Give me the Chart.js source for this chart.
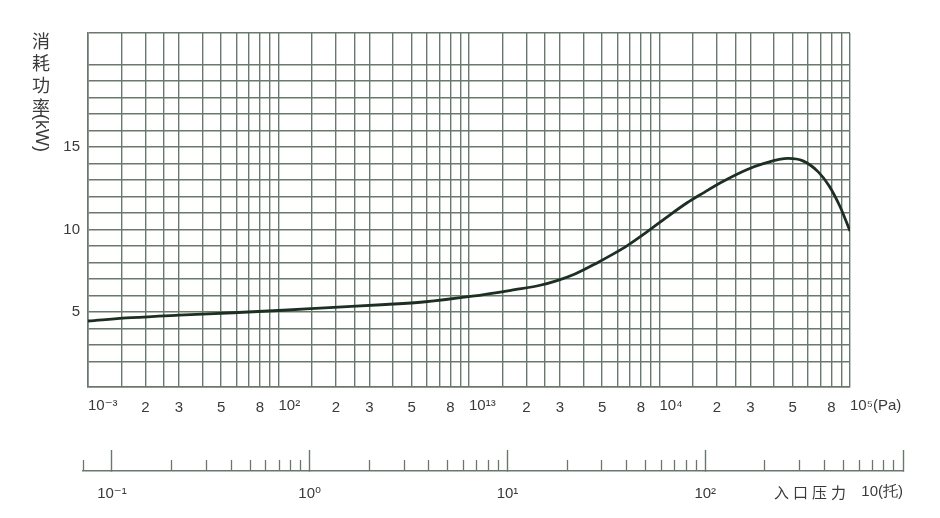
<!DOCTYPE html>
<html><head><meta charset="utf-8">
<script src="https://cdn.jsdelivr.net/npm/chart.js@4.4.1/dist/chart.umd.min.js"></script>
<style>
html,body{margin:0;padding:0;background:#ffffff;}
#wrap{position:relative;width:940px;height:518px;background:#fff;}
#c1{position:absolute;left:0;top:0;}
#c2{position:absolute;left:0;top:430px;}
</style></head><body>
<div id="wrap">
<canvas id="c1" width="940" height="430"></canvas>
<canvas id="c2" width="940" height="88"></canvas>
</div>
<script>
// ---- data ----
const pressurePa = [10, 17, 30, 58, 106, 175, 366, 574, 1040, 1740, 2330, 2900, 3600, 4750, 5700, 6840, 8600, 10800, 13900, 16900, 21500, 28500, 35400, 47300, 56600, 67900, 77600, 88500, 100000];
const powerKW    = [4.45, 4.65, 4.8, 4.95, 5.1, 5.25, 5.45, 5.6, 5.95, 6.35, 6.6, 6.9, 7.3, 8.0, 8.5, 9.05, 9.85, 10.7, 11.6, 12.2, 12.9, 13.6, 14.0, 14.3, 14.15, 13.5, 12.65, 11.4, 9.9];

// ---- axis definitions ----
const paMin = 10, paMax = 100000;
const paDecades = [10, 100, 1000, 10000];
const paGridMultipliers = [1, 1.5, 2, 2.5, 3, 4, 5, 6, 7, 8, 9];
const paDigitLabelMultipliers = [2, 3, 5, 8];
const paPowerTickValues = [10, 100, 1000, 10000, 100000];
const paPowerTickLabels = ['10⁻³', '10²', '10¹³', '10⁴', '10⁵(Pa)'];
const kwMin = 0.45, kwMax = 21.9;
const kwTickLabels = [5, 10, 15];
const yTitleChars = ['消', '耗', '功', '率'];
const yTitleUnit = '(kW)';

const torrMin = 0.0714, torrMax = 1000;
const torrMajorTicks = [0.1, 1, 10, 100, 1000];
const torrMinorMultipliers = [2, 3, 4, 5, 6, 7, 8, 9];
const torrMinorDecades = [0.1, 1, 10, 100];
const torrLabelValues = [0.1, 1, 10, 100];
const torrLabels = ['10⁻¹', '10⁰', '10¹', '10²'];
const torrEndValue = 1000;
const torrEndLabel = '10(托)';
const torrAxisTitle = '入口压力';

// ---- styles ----
const FONT = "'Liberation Sans', 'DejaVu Sans', Arial, sans-serif";
const CJK = "'Noto Sans CJK SC', 'Noto Sans', sans-serif";
const TXT = '#3a3a3a';
const GRID = '#6a786d';
const LINE = '#1d2f23';

const paGridTicks = [];
paDecades.forEach(d => paGridMultipliers.forEach(m => paGridTicks.push(m * d)));
paGridTicks.push(paMax);

const torrMinorTicks = [torrMin];
torrMinorDecades.forEach(d => torrMinorMultipliers.forEach(m => torrMinorTicks.push(m * d)));

function mantissa(v) {
  const e = Math.floor(Math.log10(v) + 1e-9);
  return Math.round(v / Math.pow(10, e) * 10) / 10;
}

const titlePlugin = {
  id: 'yTitle',
  afterDraw(chart) {
    const ctx = chart.ctx;
    ctx.save();
    ctx.fillStyle = TXT;
    ctx.font = '18px ' + CJK;
    ctx.textAlign = 'center';
    ctx.textBaseline = 'middle';
    yTitleChars.forEach((ch, i) => ctx.fillText(ch, 41, 41 + i * 22));
    ctx.translate(41, 114);
    ctx.rotate(Math.PI / 2);
    ctx.textAlign = 'left';
    ctx.font = '18px ' + FONT;
    ctx.fillText(yTitleUnit, 0, 0);
    ctx.restore();
  }
};

new Chart(document.getElementById('c1'), {
  type: 'line',
  data: {
    datasets: [{
      data: pressurePa.map((p, i) => ({ x: p, y: powerKW[i] })),
      borderColor: LINE,
      borderWidth: 2.8,
      pointRadius: 0,
      cubicInterpolationMode: 'monotone',
      fill: false
    }]
  },
  options: {
    responsive: false,
    animation: false,
    events: [],
    layout: { padding: { top: 33, right: 90, left: 0, bottom: 0 } },
    plugins: { legend: { display: false }, tooltip: { enabled: false } },
    scales: {
      xPow: {
        type: 'logarithmic', position: 'bottom', weight: 0, min: paMin, max: paMax,
        afterBuildTicks: s => { s.ticks = paPowerTickValues.map(v => ({ value: v })); },
        afterFit: s => { s.height = 0; },
        grid: { display: false }, border: { display: false },
        ticks: {
          mirror: true, align: 'start', padding: -28, autoSkip: false, maxRotation: 0,
          font: { family: FONT, size: 15 }, color: TXT,
          callback: (v, i) => paPowerTickLabels[i]
        }
      },
      x: {
        type: 'logarithmic', position: 'bottom', weight: 1, min: paMin, max: paMax,
        afterBuildTicks: s => { s.ticks = paGridTicks.map(v => ({ value: v })); },
        afterFit: s => { s.height = 43; },
        grid: { color: GRID, lineWidth: 1.4, drawTicks: false },
        border: { color: GRID, width: 1.6 },
        ticks: {
          padding: 12, autoSkip: false, maxRotation: 0,
          font: { family: FONT, size: 15 }, color: TXT,
          callback: (v) => {
            const m = mantissa(v);
            return (v < paMax && paDigitLabelMultipliers.includes(m)) ? String(m) : '';
          }
        }
      },
      y: {
        type: 'linear', min: kwMin, max: kwMax,
        afterFit: s => { s.width = 88; },
        grid: { color: GRID, lineWidth: 1.4, drawTicks: false },
        border: { color: GRID, width: 1.6 },
        ticks: {
          stepSize: 1, autoSkip: false, padding: 8,
          font: { family: FONT, size: 15 }, color: TXT,
          callback: v => kwTickLabels.includes(v) ? String(v) : ''
        }
      }
    }
  },
  plugins: [titlePlugin]
});

const torrTitlePlugin = {
  id: 'torrTitle',
  afterDraw(chart) {
    const ctx = chart.ctx;
    ctx.save();
    ctx.fillStyle = TXT;
    ctx.font = '15px ' + CJK;
    if ('letterSpacing' in ctx) ctx.letterSpacing = '4px';
    ctx.textAlign = 'center';
    ctx.textBaseline = 'middle';
    ctx.fillText(torrAxisTitle, 812, 62);
    ctx.restore();
  }
};

const AXC = '#6a776c';
new Chart(document.getElementById('c2'), {
  type: 'line',
  data: { datasets: [] },
  options: {
    responsive: false,
    animation: false,
    events: [],
    layout: { padding: { top: 0, right: 37, left: 83, bottom: 0 } },
    plugins: { legend: { display: false }, tooltip: { enabled: false } },
    scales: {
      y: { display: false },
      tMaj: {
        type: 'logarithmic', position: 'bottom', weight: 0, min: torrMin, max: torrMax,
        afterBuildTicks: s => { s.ticks = torrMajorTicks.map(v => ({ value: v })); },
        afterFit: s => { s.height = 0; },
        grid: { drawOnChartArea: false, drawTicks: true, tickLength: -21, tickWidth: 1.4, tickColor: AXC },
        border: { display: true, color: AXC, width: 1.6 },
        ticks: { display: false }
      },
      tMin: {
        type: 'logarithmic', position: 'bottom', weight: 1, min: torrMin, max: torrMax,
        afterBuildTicks: s => { s.ticks = torrMinorTicks.map(v => ({ value: v })); },
        afterFit: s => { s.height = 0; },
        grid: { drawOnChartArea: false, drawTicks: true, tickLength: -11, tickWidth: 1.3, tickColor: AXC },
        border: { display: false },
        ticks: { display: false }
      },
      tEnd: {
        type: 'logarithmic', position: 'bottom', weight: 2, min: torrMin, max: torrMax,
        afterBuildTicks: s => { s.ticks = [{ value: torrEndValue }]; },
        afterFit: s => { s.height = 0; },
        grid: { display: false }, border: { display: false },
        ticks: {
          mirror: true, align: 'end', padding: -30, autoSkip: false, maxRotation: 0,
          font: { family: FONT, size: 15 }, color: TXT,
          callback: () => torrEndLabel
        }
      },
      x: {
        type: 'logarithmic', position: 'bottom', weight: 3, min: torrMin, max: torrMax,
        afterBuildTicks: s => { s.ticks = torrLabelValues.map(v => ({ value: v })); },
        afterFit: s => { s.height = 47; },
        grid: { display: false }, border: { display: false },
        ticks: {
          padding: 6, autoSkip: false, maxRotation: 0,
          font: { family: FONT, size: 15 }, color: TXT,
          callback: (v, i) => torrLabels[i]
        }
      }
    }
  },
  plugins: [torrTitlePlugin]
});
</script>
</body></html>
